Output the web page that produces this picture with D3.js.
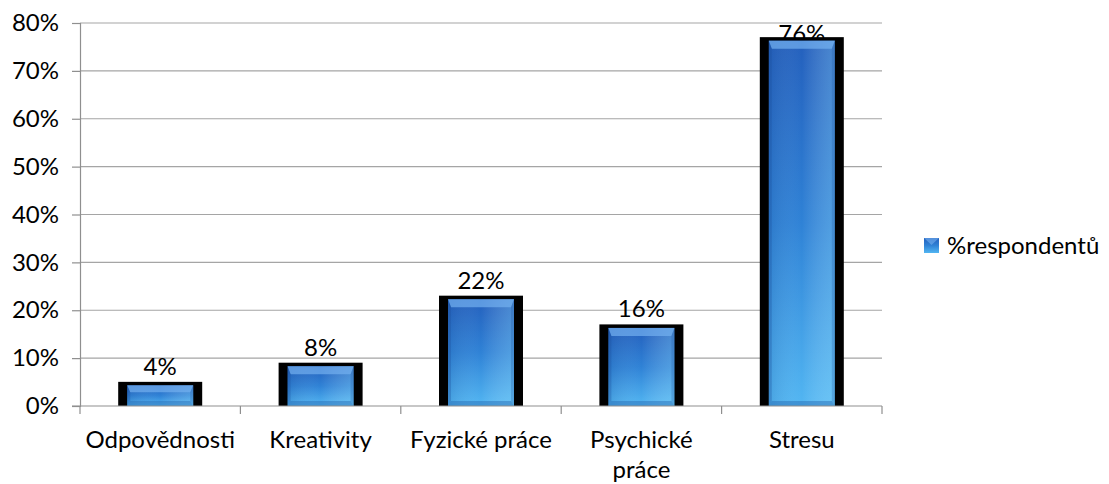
<!DOCTYPE html>
<html>
<head>
<meta charset="utf-8">
<script src="https://cdn.jsdelivr.net/npm/d3@7"></script>
<style>
  body { margin: 0; background: #fff; }
  text { font-family: Lato, "Open Sans", sans-serif; fill: #000; }
</style>
</head>
<body>
<svg id="svg"></svg>
<script>
// chart data
let categories = ["Odpovědnosti", "Kreativity", "Fyzické práce", "Psychické práce", "Stresu"];
let values = [4, 8, 22, 16, 76];
let yTicks = [0, 10, 20, 30, 40, 50, 60, 70, 80];
let seriesName = "%respondentů";

let width = 1109, height = 484;
let plot = { left: 80, right: 882, top: 23, bottom: 406 };
let fontSize = "24px";

let svg = d3.select("#svg").attr("width", width).attr("height", height);

let defs = svg.append("defs");
let gv = defs.append("linearGradient").attr("id", "gv")
  .attr("x1", 0).attr("y1", 0).attr("x2", 0).attr("y2", 1);
gv.append("stop").attr("offset", "0%").attr("stop-color", "#2460bd");
gv.append("stop").attr("offset", "50%").attr("stop-color", "#2f82d6");
gv.append("stop").attr("offset", "100%").attr("stop-color", "#52b6f2");
let gh = defs.append("linearGradient").attr("id", "gh")
  .attr("x1", 0).attr("y1", 0).attr("x2", 1).attr("y2", 0);
gh.append("stop").attr("offset", "0%").attr("stop-color", "#0b3a80").attr("stop-opacity", 0.15);
gh.append("stop").attr("offset", "50%").attr("stop-color", "#ffffff").attr("stop-opacity", 0);
gh.append("stop").attr("offset", "100%").attr("stop-color", "#9fe6ff").attr("stop-opacity", 0.3);

let x = d3.scaleBand().domain(categories).range([plot.left, plot.right]);
let y = d3.scaleLinear().domain([0, 80]).range([plot.bottom, plot.top]);

// gridlines
svg.append("g").selectAll("line").data(yTicks.slice(1)).enter().append("line")
  .attr("x1", plot.left).attr("x2", plot.right)
  .attr("y1", d => y(d)).attr("y2", d => y(d))
  .attr("stroke", "#a5a5a5").attr("stroke-width", 1.2);

// y axis
let yAxis = svg.append("g").attr("transform", "translate(" + plot.left + ",0)")
  .call(d3.axisLeft(y).tickValues(yTicks).tickFormat(d => d + "%").tickSize(8).tickPadding(13));
yAxis.select(".domain").attr("stroke", "#8f8f8f").attr("stroke-width", 1.2);
yAxis.selectAll(".tick line").attr("stroke", "#8f8f8f").attr("stroke-width", 1.2);
yAxis.selectAll("text").style("font-size", fontSize).style("font-family", "Lato");

// value labels (drawn before bars, so the tall bar covers its label)
svg.append("g").selectAll("text").data(values).enter().append("text")
  .attr("x", (d, i) => x(categories[i]) + x.bandwidth() / 2)
  .attr("y", d => Math.max(y(d) - 12, plot.top + 19))
  .attr("text-anchor", "middle")
  .style("font-size", fontSize)
  .text(d => d + "%");

// bars
let outerW = 84, innerW = 66;
let bars = svg.append("g").selectAll("g").data(values).enter().append("g");
bars.each(function(d, i) {
  let g = d3.select(this);
  let cx = x(categories[i]) + x.bandwidth() / 2;
  let top = y(d) - 1.5;
  let x0 = cx - innerW / 2, x1 = cx + innerW / 2;
  g.append("rect")
    .attr("x", cx - outerW / 2).attr("y", y(d) - 5)
    .attr("width", outerW).attr("height", plot.bottom - y(d) + 5)
    .attr("fill", "#000");
  g.append("rect")
    .attr("x", x0).attr("y", top)
    .attr("width", innerW).attr("height", plot.bottom - top)
    .attr("fill", "url(#gv)");
  g.append("rect")
    .attr("x", x0).attr("y", top)
    .attr("width", innerW).attr("height", plot.bottom - top)
    .attr("fill", "url(#gh)");
  let h = plot.bottom - top;
  let bt = Math.min(8, h / 3), bb = Math.min(5, h / 4), bs = 3;
  // top bevel
  g.append("polygon")
    .attr("points", [[x0, top], [x1, top], [x1 - bs, top + bt], [x0 + bs, top + bt]].join(" "))
    .attr("fill", "#74b0f0").attr("opacity", 0.7);
  // left bevel
  g.append("polygon")
    .attr("points", [[x0, top], [x0 + bs, top + bt], [x0 + bs, plot.bottom - bb], [x0, plot.bottom]].join(" "))
    .attr("fill", "#1d4f9c").attr("opacity", 0.3);
  // right bevel
  g.append("polygon")
    .attr("points", [[x1, top], [x1 - bs, top + bt], [x1 - bs, plot.bottom - bb], [x1, plot.bottom]].join(" "))
    .attr("fill", "#1d4f9c").attr("opacity", 0.25);
  // bottom bevel
  g.append("polygon")
    .attr("points", [[x0, plot.bottom], [x1, plot.bottom], [x1 - bs, plot.bottom - bb], [x0 + bs, plot.bottom - bb]].join(" "))
    .attr("fill", "#2a6fb8").attr("opacity", 0.5);
});

// x axis
let xAxis = svg.append("g").attr("transform", "translate(0," + plot.bottom + ")")
  .call(d3.axisBottom(x).tickSize(0).tickPadding(0));
xAxis.select(".domain").remove();
svg.append("line")
  .attr("x1", plot.left - 8).attr("x2", plot.right)
  .attr("y1", plot.bottom).attr("y2", plot.bottom)
  .attr("stroke", "#8f8f8f").attr("stroke-width", 1.2);
let bounds = categories.map(c => x(c)).concat([plot.right]);
svg.append("g").selectAll("line").data(bounds).enter().append("line")
  .attr("x1", d => d).attr("x2", d => d)
  .attr("y1", plot.bottom).attr("y2", plot.bottom + 8)
  .attr("stroke", "#8f8f8f").attr("stroke-width", 1.2);

xAxis.selectAll("text")
  .style("font-size", fontSize).style("font-family", "Lato")
  .attr("y", 0).attr("dy", null)
  .call(wrap, x.bandwidth());

function wrap(texts, w) {
  texts.each(function() {
    let text = d3.select(this);
    let words = text.text().split(/\s+/);
    text.text(null);
    let line = [], lineNo = 0;
    let tspan = text.append("tspan").attr("x", 0).attr("y", 42);
    words.forEach(function(word) {
      line.push(word);
      tspan.text(line.join(" "));
      if (tspan.node().getComputedTextLength() > w - 8 && line.length > 1) {
        line.pop();
        tspan.text(line.join(" "));
        line = [word];
        lineNo++;
        tspan = text.append("tspan").attr("x", 0).attr("y", 42 + lineNo * 30).text(word);
      }
    });
  });
}

// legend
let leg = svg.append("g").attr("transform", "translate(924,238)");
leg.append("rect").attr("width", 15).attr("height", 15).attr("fill", "url(#gv)");
leg.append("polygon").attr("points", "0,0 15,0 7.5,7").attr("fill", "#74b0f0").attr("opacity", 0.6);
leg.append("text").attr("x", 23).attr("y", 16)
  .style("font-size", fontSize).text(seriesName);
</script>
</body>
</html>
